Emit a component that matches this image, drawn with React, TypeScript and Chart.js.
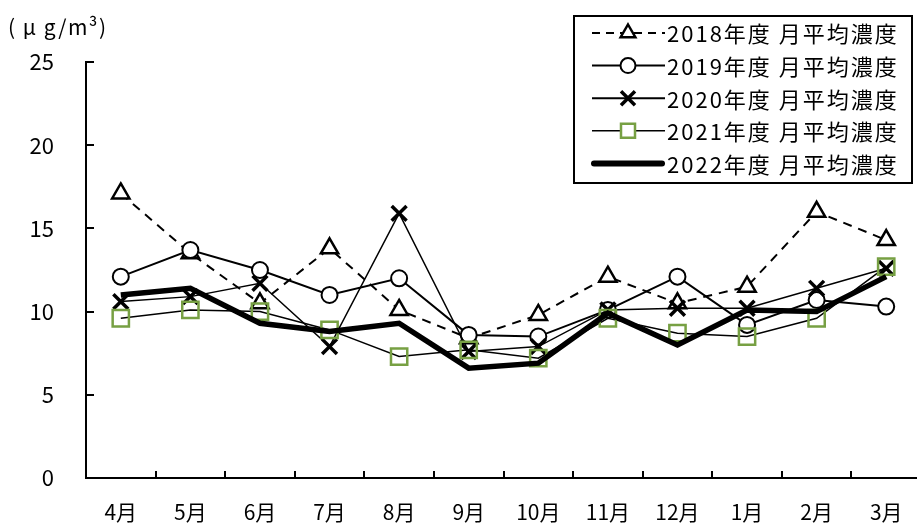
import React, { useEffect, useRef } from 'react';
import { Chart, registerables } from 'chart.js';

Chart.register(...registerables);

const months = ['4月', '5月', '6月', '7月', '8月', '9月', '10月', '11月', '12月', '1月', '2月', '3月'];
const s2018 = [17.1, 13.5, 10.5, 13.8, 10.1, 8.4, 9.8, 12.1, 10.5, 11.5, 16.0, 14.3];
const s2019 = [12.1, 13.7, 12.5, 11.0, 12.0, 8.6, 8.5, 10.1, 12.1, 9.2, 10.7, 10.3];
const s2020 = [10.6, 10.9, 11.7, 7.9, 15.9, 7.6, 7.9, 10.1, 10.2, 10.2, 11.4, 12.6];
const s2021 = [9.6, 10.1, 10.0, 8.9, 7.3, 7.7, 7.2, 9.6, 8.7, 8.5, 9.6, 12.7];
const s2022 = [11.0, 11.4, 9.3, 8.8, 9.3, 6.6, 6.9, 9.9, 8.0, 10.1, 10.0, 12.1];
const seriesNames = ['2018年度 月平均濃度', '2019年度 月平均濃度', '2020年度 月平均濃度', '2021年度 月平均濃度', '2022年度 月平均濃度'];
const yTitle = '( μ g/m³)';
const GREEN = '#77A043';
const FONT = '"Noto Sans CJK JP", "Noto Sans", sans-serif';

function drawMarker(ctx: CanvasRenderingContext2D, kind: string, x: number, y: number) {
  ctx.save();
  ctx.setLineDash([]);
  if (kind === 'triangle') {
    const r = 8.5;
    ctx.beginPath();
    ctx.moveTo(x, y - r);
    ctx.lineTo(x + r * 0.866, y + r * 0.5);
    ctx.lineTo(x - r * 0.866, y + r * 0.5);
    ctx.closePath();
    ctx.fillStyle = '#fff';
    ctx.fill();
    ctx.lineWidth = 2.5;
    ctx.strokeStyle = '#000';
    ctx.stroke();
  } else if (kind === 'circle') {
    ctx.beginPath();
    ctx.arc(x, y, 7.5, 0, Math.PI * 2);
    ctx.fillStyle = '#fff';
    ctx.fill();
    ctx.lineWidth = 2;
    ctx.strokeStyle = '#000';
    ctx.stroke();
  } else if (kind === 'cross') {
    const h = 7;
    ctx.beginPath();
    ctx.moveTo(x - h, y - h);
    ctx.lineTo(x + h, y + h);
    ctx.moveTo(x + h, y - h);
    ctx.lineTo(x - h, y + h);
    ctx.lineWidth = 3.5;
    ctx.strokeStyle = '#000';
    ctx.stroke();
  } else if (kind === 'rect') {
    ctx.beginPath();
    ctx.rect(x - 7, y - 7, 14, 14);
    ctx.fillStyle = '#fff';
    ctx.fill();
    ctx.lineWidth = 2.5;
    ctx.strokeStyle = GREEN;
    ctx.stroke();
  }
  ctx.restore();
}

const decorPlugin = {
  id: 'decor',
  afterDraw(chart: any) {
    const ctx: CanvasRenderingContext2D = chart.ctx;
    const xs = chart.scales.x;
    const ys = chart.scales.y;
    const area = chart.chartArea;
    ctx.save();
    ctx.strokeStyle = '#000';
    ctx.lineWidth = 2;
    ys.ticks.forEach((t: any) => {
      const y = Math.round(ys.getPixelForValue(t.value));
      ctx.beginPath();
      ctx.moveTo(area.left, y);
      ctx.lineTo(area.left + 8, y);
      ctx.stroke();
    });
    for (let i = 1; i < months.length; i++) {
      const x = Math.round((xs.getPixelForValue(i - 1) + xs.getPixelForValue(i)) / 2);
      ctx.beginPath();
      ctx.moveTo(x, area.bottom);
      ctx.lineTo(x, area.bottom - 7);
      ctx.stroke();
    }
    // unit title
    ctx.fillStyle = '#000';
    ctx.font = `21px ${FONT}`;
    (ctx as any).letterSpacing = '1.5px';
    ctx.textBaseline = 'middle';
    ctx.textAlign = 'left';
    ctx.fillText(yTitle, 8, 27);
    (ctx as any).letterSpacing = '0px';

    // legend
    const bx = 574, by = 16, bw = 338, bh = 167;
    ctx.fillStyle = '#fff';
    ctx.fillRect(bx, by, bw, bh);
    ctx.lineWidth = 2;
    ctx.strokeStyle = '#000';
    ctx.strokeRect(bx, by, bw, bh);
    const kinds = ['triangle', 'circle', 'cross', 'rect', 'none'];
    const widths = [2, 2, 2, 1.5, 6];
    for (let i = 0; i < seriesNames.length; i++) {
      const y = 33 + i * 32.6;
      ctx.save();
      ctx.beginPath();
      ctx.strokeStyle = '#000';
      ctx.lineWidth = widths[i];
      ctx.lineCap = i === 4 ? 'round' : 'butt';
      if (i === 0) ctx.setLineDash([8, 6]);
      ctx.moveTo(i === 4 ? 594 : 592, y);
      ctx.lineTo(i === 4 ? 662 : 665, y);
      ctx.stroke();
      ctx.restore();
      drawMarker(ctx, kinds[i], 628, y);
      ctx.fillStyle = '#000';
      ctx.font = `22px ${FONT}`;
      (ctx as any).letterSpacing = '2px';
      ctx.textBaseline = 'middle';
      ctx.textAlign = 'left';
      ctx.fillText(seriesNames[i], 667, y + 1);
      (ctx as any).letterSpacing = '0px';
    }
    ctx.restore();
  },
};

export default function App() {
  const ref = useRef<HTMLCanvasElement>(null);
  useEffect(() => {
    if (!ref.current) return;
    const chart = new Chart(ref.current, {
      type: 'line',
      data: {
        labels: months,
        datasets: [
          {
            label: seriesNames[4], data: s2022, borderColor: '#000', borderWidth: 5.5,
            pointRadius: 0, tension: 0, order: 0,
          },
          {
            label: seriesNames[3], data: s2021, borderColor: '#000', borderWidth: 1.5,
            pointStyle: 'rect', pointRadius: 11.5, pointBorderColor: GREEN, pointBackgroundColor: 'rgba(255,255,255,0)',
            pointBorderWidth: 2.5, tension: 0, order: 1,
          },
          {
            label: seriesNames[2], data: s2020, borderColor: '#000', borderWidth: 1.5,
            pointStyle: 'crossRot', pointRadius: 10.5, pointBorderColor: '#000', pointBorderWidth: 3.5,
            tension: 0, order: 2,
          },
          {
            label: seriesNames[1], data: s2019, borderColor: '#000', borderWidth: 2,
            pointStyle: 'circle', pointRadius: 8, pointBorderColor: '#000', pointBackgroundColor: '#fff',
            pointBorderWidth: 2, tension: 0, order: 3,
          },
          {
            label: seriesNames[0], data: s2018, borderColor: '#000', borderWidth: 2, borderDash: [9, 7],
            pointStyle: 'triangle', pointRadius: 10, pointBorderColor: '#000', pointBackgroundColor: '#fff',
            pointBorderWidth: 2.5, tension: 0, order: 4,
          },
        ],
      },
      options: {
        animation: false,
        responsive: false,
        devicePixelRatio: 1,
        layout: { padding: { top: 62, right: 12, left: 0, bottom: 0 } },
        plugins: { legend: { display: false }, tooltip: { enabled: false } },
        scales: {
          x: {
            offset: true,
            grid: { display: false, drawTicks: false, offset: true },
            border: { display: true, color: '#000', width: 2 },
            ticks: { color: '#000', font: { family: FONT, size: 21 }, padding: 21, maxRotation: 0, autoSkip: false },
            afterFit: (s: any) => { s.height = 47; },
          },
          y: {
            min: 0, max: 25,
            grid: { display: false, drawTicks: false },
            border: { display: true, color: '#000', width: 2 },
            ticks: { stepSize: 5, color: '#000', font: { family: FONT, size: 22 }, padding: 32 },
            afterFit: (s: any) => { s.width = 86; },
          },
        },
      },
      plugins: [decorPlugin],
    });
    return () => chart.destroy();
  }, []);
  return (
    <div style={{ position: 'fixed', left: 0, top: 0, width: 917, height: 525, overflow: 'hidden', background: '#fff' }}>
      <canvas ref={ref} width={935} height={525} style={{ display: 'block', width: 935, height: 525 }} />
    </div>
  );
}
